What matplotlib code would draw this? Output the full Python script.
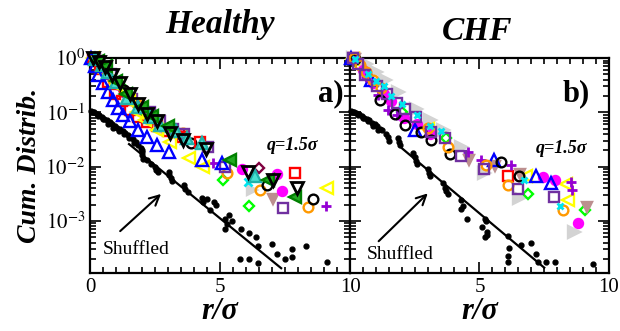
import matplotlib
matplotlib.use("Agg")
import matplotlib.pyplot as plt
from matplotlib.ticker import MultipleLocator, LogLocator, FixedLocator, NullFormatter

plt.rcParams['font.family'] = ['Liberation Serif', 'DejaVu Serif']
plt.rcParams['mathtext.fontset'] = 'stix'

# ---- Healthy panel: (r/sigma, cumulative distribution) ----
h_blue_r = [0.05, 0.2, 0.32, 0.51, 0.70, 0.90, 1.09, 1.28, 1.54, 1.86, 2.18, 2.57, 3.05, 4.30, 5.07]
h_blue_y = [1.0, 0.7, 0.49, 0.34, 0.24, 0.17, 0.12, 0.089, 0.068, 0.047, 0.035, 0.025, 0.019, 0.013, 0.0115]
h_red_r = [0.1, 0.4, 0.7, 0.96, 1.22, 1.54, 1.86, 2.2, 2.57, 3.01, 3.53, 4.23, 7.88]
h_red_y = [1.0, 0.63, 0.355, 0.22, 0.16, 0.11, 0.083, 0.066, 0.055, 0.045, 0.035, 0.028, 0.0076]
h_yel_r = [0.1, 0.5, 1.0, 1.5, 1.8, 2.12, 2.57, 3.08, 3.8, 4.36, 9.1]
h_yel_y = [1.0, 0.56, 0.32, 0.16, 0.1, 0.072, 0.047, 0.029, 0.0145, 0.010, 0.004]
h_blk_tri_r = [0.1, 0.35, 0.58, 0.83, 1.15, 1.54, 1.85, 2.18, 2.57, 3.08, 3.59, 4.45, 6.09, 7.05, 7.95]
h_blk_tri_y = [1.0, 0.83, 0.69, 0.49, 0.34, 0.22, 0.14, 0.095, 0.068, 0.041, 0.031, 0.021, 0.0081, 0.0056, 0.004]
h_turq_r = [0.2, 0.45, 0.7, 1.0, 1.41, 1.86, 2.31, 2.69, 3.3, 3.72, 4.30, 6.35]
h_turq_y = [0.95, 0.75, 0.56, 0.355, 0.18, 0.126, 0.083, 0.059, 0.045, 0.033, 0.027, 0.0066]
h_grn_r = [0.3, 0.6, 1.0, 1.4, 2.0, 2.4, 3.01, 5.38, 6.86, 7.88]
h_grn_y = [0.89, 0.7, 0.38, 0.22, 0.126, 0.085, 0.055, 0.013, 0.0056, 0.0028]
h_purp_sq_r = [0.2, 0.8, 1.6, 2.3, 2.7, 3.2, 3.6, 4.55, 5.19, 7.43]
h_purp_sq_y = [0.95, 0.5, 0.178, 0.1, 0.07, 0.05, 0.04, 0.023, 0.010, 0.0017]
h_orng_r = [0.25, 0.9, 1.8, 2.5, 3.59, 5.26, 6.54, 8.40]
h_orng_y = [0.89, 0.4, 0.14, 0.075, 0.041, 0.0076, 0.0037, 0.0018]
h_blk_circ_r = [0.3, 1.3, 2.3, 3.9, 6.8, 8.59]
h_blk_circ_y = [0.9, 0.26, 0.08, 0.027, 0.0046, 0.0025]
h_mag_r = [0.2, 1.1, 2.0, 3.4, 5.83, 7.18, 7.37]
h_mag_y = [0.95, 0.32, 0.11, 0.04, 0.0089, 0.0072, 0.0036]
h_lime_r = [0.15, 1.2, 2.0, 3.0, 5.13, 6.13]
h_lime_y = [0.95, 0.3, 0.11, 0.05, 0.0056, 0.0019]
h_maroon_r = [0.3, 1.7, 3.6, 6.51]
h_maroon_y = [0.9, 0.16, 0.036, 0.0095]
h_rosy_r = [0.25, 1.9, 3.3, 7.03]
h_rosy_y = [0.9, 0.12, 0.04, 0.0025]
h_plus_r = [0.2, 1.4, 4.74, 9.08]
h_plus_y = [0.95, 0.2, 0.0117, 0.0019]
h_cyan_r = [0.2, 2.6, 6.09]
h_cyan_y = [0.95, 0.065, 0.0052]
h_gray_r = [0.2, 2.9, 6.22]
h_gray_y = [0.95, 0.05, 0.0037]

h_shuf_r = [0.05, 0.1, 0.15, 0.25, 0.3, 0.35, 0.45, 0.5, 0.55, 0.65, 0.7, 0.75, 0.85, 0.9,
            0.95, 1.05, 1.1, 1.15, 1.25, 1.3, 1.35, 1.45, 1.5, 1.55, 1.65, 1.7, 1.75, 1.85,
            1.95, 2.0, 2.0, 2.0, 2.05, 2.2, 2.35, 2.5, 2.55, 2.6, 3.05, 3.05, 3.1, 3.15,
            3.6, 3.65, 3.75, 4.3, 4.35, 4.5, 4.6, 4.75, 4.85, 5.2, 5.35, 5.25, 5.2, 5.45,
            5.8, 6.1, 6.4, 6.45, 7.0, 7.2, 5.75, 6.1, 6.45, 7.5, 7.75, 7.75, 8.3, 9.1]
h_shuf_y = [0.105, 0.1, 0.1, 0.093, 0.085, 0.089, 0.083, 0.074, 0.076, 0.071, 0.062, 0.066,
            0.06, 0.052, 0.056, 0.052, 0.045, 0.05, 0.046, 0.04, 0.042, 0.038, 0.033, 0.035,
            0.032, 0.027, 0.028, 0.025, 0.022, 0.02, 0.0166, 0.0185, 0.0141, 0.0132, 0.0112,
            0.01, 0.0087, 0.0079, 0.0079, 0.0069, 0.0063, 0.0055, 0.0045, 0.0038, 0.0034,
            0.0026, 0.0022, 0.0025, 0.0016, 0.0022, 0.002, 0.0011, 0.00126, 0.00089, 0.0007,
            0.001, 0.0007, 0.0006, 0.0005, 0.00034, 0.00037, 0.00025, 0.0002, 0.0002,
            0.000166, 0.0002, 0.00022, 0.0003, 0.00035, 0.000178]
h_line_r = [1.5, 7.35]
h_line_y = [0.026, 0.000135]

# ---- CHF panel ----
c_gray_r = [0.1, 0.6, 1.0, 1.35, 1.86, 2.56, 3.08, 3.59, 4.30, 5.19, 6.54, 8.65]
c_gray_y = [1.0, 0.76, 0.56, 0.39, 0.24, 0.117, 0.072, 0.047, 0.023, 0.0076, 0.0026, 0.00063]
c_purp_sq_r = [0.1, 0.3, 0.58, 1.03, 1.41, 1.80, 2.12, 2.56, 3.14, 3.65, 4.30, 5.19, 6.47, 7.86]
c_purp_sq_y = [1.0, 0.79, 0.49, 0.30, 0.22, 0.148, 0.117, 0.083, 0.044, 0.033, 0.016, 0.0090, 0.0038, 0.0028]
c_blk_circ_r = [0.2, 1.15, 1.73, 2.12, 2.76, 3.14, 3.85, 5.83, 6.54]
c_blk_circ_y = [0.95, 0.17, 0.095, 0.059, 0.044, 0.031, 0.0174, 0.0123, 0.0068]
c_orng_r = [0.15, 0.4, 0.6, 0.9, 1.2, 3.01, 3.78, 5.26, 6.09, 8.24]
c_orng_y = [1.0, 0.75, 0.55, 0.4, 0.28, 0.051, 0.023, 0.0107, 0.0046, 0.0016]
c_plus_r = [0.2, 0.6, 1.09, 1.47, 1.80, 4.55, 5.06, 6.22, 8.53, 8.59]
c_plus_y = [0.95, 0.45, 0.21, 0.11, 0.089, 0.0186, 0.0135, 0.0107, 0.0052, 0.0037]
c_blue_r = [0.05, 0.8, 2.5, 5.58, 7.18, 7.76]
c_blue_y = [1.0, 0.4, 0.047, 0.0135, 0.0068, 0.0049]
c_mag_r = [0.1, 0.5, 0.9, 1.3, 1.6, 2.1, 2.6, 3.1, 7.47, 7.91, 8.81]
c_mag_y = [1.0, 0.6, 0.35, 0.22, 0.16, 0.077, 0.06, 0.04, 0.0065, 0.0056, 0.00093]
c_rosy_r = [0.2, 4.58, 5.60, 6.58, 9.14]
c_rosy_y = [0.95, 0.0132, 0.0102, 0.0072, 0.0018]
c_yel_r = [0.1, 3.0, 6.78, 8.33, 8.40]
c_yel_y = [0.95, 0.05, 0.0068, 0.0048, 0.0024]
c_red_r = [0.15, 6.09]
c_red_y = [1.0, 0.0068]
c_lime_r = [0.2, 2.0, 3.7, 6.88, 9.06]
c_lime_y = [0.9, 0.1, 0.034, 0.0032, 0.0016]
c_cyan_r = [0.2, 0.7, 1.0, 1.3, 1.6, 2.0, 2.6, 3.1, 3.5, 6.73, 8.12]
c_cyan_y = [0.95, 0.5, 0.38, 0.3, 0.2, 0.14, 0.09, 0.055, 0.045, 0.0056, 0.0019]

c_shuf_r = [0.05, 0.1, 0.15, 0.25, 0.3, 0.35, 0.45, 0.5, 0.55, 0.65, 0.7, 0.75, 0.85, 0.9,
            0.95, 1.05, 1.1, 1.15, 1.25, 1.4, 1.45, 1.5, 1.85, 1.9, 1.95, 2.45, 2.5, 2.55,
            2.6, 3.0, 3.05, 3.1, 3.6, 3.65, 3.7, 3.8, 4.3, 4.35, 4.3, 4.5, 5.2, 5.25, 5.1,
            5.3, 5.2, 5.3, 6.1, 6.15, 6.1, 6.1, 6.6, 7.0, 7.2, 7.25, 7.55, 7.9, 9.4]
c_shuf_y = [0.105, 0.1, 0.102, 0.098, 0.09, 0.093, 0.087, 0.08, 0.079, 0.076, 0.068, 0.071,
            0.063, 0.057, 0.06, 0.055, 0.047, 0.05, 0.047, 0.04, 0.035, 0.03, 0.033, 0.028,
            0.025, 0.0178, 0.015, 0.0126, 0.0112, 0.0089, 0.0076, 0.0066, 0.005, 0.004,
            0.0035, 0.0032, 0.0024, 0.0019, 0.00166, 0.0011, 0.0011, 0.001, 0.00079, 0.00063,
            0.0005, 0.00056, 0.00052, 0.00032, 0.00023, 0.000178, 0.00036, 0.00039, 0.00025,
            0.000178, 0.000178, 0.000178, 0.000158]
c_line_r = [2.0, 7.5]
c_line_y = [0.0219, 0.000138]


def mk(ax, r, y, marker, color, face='none', ms=7, mew=1.7):
    ax.plot(r, y, linestyle='none', marker=marker, color=color, mfc=face, mec=color,
            ms=ms, mew=mew, clip_on=False, zorder=3)


def style_axis(ax, labels):
    ax.set_yscale('log')
    ax.set_xlim(0, 10)
    ax.set_ylim(1.1e-4, 1.0)
    ax.xaxis.set_major_locator(FixedLocator([0, 5, 10]))
    ax.xaxis.set_minor_locator(MultipleLocator(0.5))
    ax.set_xticklabels(labels, fontsize=15)
    ax.yaxis.set_major_locator(LogLocator(base=10, numticks=10))
    ax.yaxis.set_minor_locator(LogLocator(base=10, subs=range(2, 10), numticks=10))
    ax.yaxis.set_minor_formatter(NullFormatter())
    ax.tick_params(which='both', direction='in', top=True, right=True, width=1.2)
    ax.tick_params(which='major', length=8)
    ax.tick_params(which='minor', length=4)
    for s in ax.spines.values():
        s.set_linewidth(1.6)


fig = plt.figure(figsize=(6.2, 3.31), dpi=100)
ax1 = fig.add_axes([0.1452, 0.1752, 0.4194, 0.6495])
ax2 = fig.add_axes([0.5645, 0.1752, 0.4177, 0.6495])

# Healthy
mk(ax1, h_gray_r, h_gray_y, '>', '#d3d3d3', '#d3d3d3')
mk(ax1, h_rosy_r, h_rosy_y, 'v', '#bc8f8f', '#bc8f8f')
mk(ax1, h_mag_r, h_mag_y, 'o', '#ff00ff', '#ff00ff', ms=6.5)
mk(ax1, h_cyan_r, h_cyan_y, 'x', '#00e5ee', ms=6, mew=2)
mk(ax1, h_plus_r, h_plus_y, '+', '#9400d3', ms=7, mew=2)
mk(ax1, h_lime_r, h_lime_y, 'D', '#00ff00', ms=5.5)
mk(ax1, h_maroon_r, h_maroon_y, 'D', '#800040', ms=5.5)
mk(ax1, h_orng_r, h_orng_y, 'o', '#ff9900')
mk(ax1, h_blk_circ_r, h_blk_circ_y, 'o', 'black')
mk(ax1, h_purp_sq_r, h_purp_sq_y, 's', '#7030a0')
mk(ax1, h_red_r, h_red_y, 's', '#ff0000')
mk(ax1, h_yel_r, h_yel_y, '<', '#ffff00', ms=8)
mk(ax1, h_blue_r, h_blue_y, '^', '#0000ff', ms=8)
mk(ax1, h_turq_r, h_turq_y, '^', '#20b2aa', '#48e0d0', ms=8)
mk(ax1, h_grn_r, h_grn_y, '<', '#008000', '#22aa22', ms=8)
mk(ax1, h_blk_tri_r, h_blk_tri_y, 'v', 'black', ms=8, mew=2)
ax1.plot(h_shuf_r, h_shuf_y, linestyle='none', marker='o', color='black', ms=3.5, clip_on=False)
ax1.plot(h_line_r, h_line_y, color='black', lw=1.6)

# CHF
mk(ax2, c_gray_r, c_gray_y, '>', '#d3d3d3', '#d3d3d3', ms=8)
mk(ax2, c_lime_r, c_lime_y, 'D', '#00ff00', ms=5.5)
mk(ax2, c_red_r, c_red_y, 's', '#ff0000')
mk(ax2, c_yel_r, c_yel_y, '<', '#ffff00', ms=8)
mk(ax2, c_rosy_r, c_rosy_y, 'v', '#bc8f8f', '#bc8f8f')
mk(ax2, c_mag_r, c_mag_y, 'o', '#ff00ff', '#ff00ff', ms=6.5)
mk(ax2, c_blue_r, c_blue_y, '^', '#0000ff', ms=8)
mk(ax2, c_plus_r, c_plus_y, '+', '#9400d3', ms=7, mew=2)
mk(ax2, c_blk_circ_r, c_blk_circ_y, 'o', 'black')
mk(ax2, c_orng_r, c_orng_y, 'o', '#ff9900')
mk(ax2, c_purp_sq_r, c_purp_sq_y, 's', '#7030a0')
mk(ax2, c_cyan_r, c_cyan_y, 'x', '#00e5ee', ms=5, mew=2)
ax2.plot(c_shuf_r, c_shuf_y, linestyle='none', marker='o', color='black', ms=3.5, clip_on=False)
ax2.plot(c_line_r, c_line_y, color='black', lw=1.6)

style_axis(ax1, ['0', '5', '10'])
style_axis(ax2, ['', '5', '10'])
ax1.set_yticks([1, 0.1, 0.01, 0.001])
ax1.set_yticklabels(['$10^{0}$', '$10^{-1}$', '$10^{-2}$', '$10^{-3}$'], fontsize=15)
ax2.set_yticks([1, 0.1, 0.01, 0.001])
ax2.set_yticklabels([])

for ax, lab, qx, qy, sx, sy in [(ax1, 'a)', 0.78, 0.595, 0.05, 0.11),
                                 (ax2, 'b)', 0.815, 0.58, 0.066, 0.088)]:
    ax.text(0.975 if lab == 'a)' else 0.925, 0.8, lab, transform=ax.transAxes,
            ha='right', va='baseline', fontsize=22, fontweight='bold')
    ax.text(qx, qy, 'q=1.5σ', transform=ax.transAxes, ha='center', va='center',
            fontsize=13, fontweight='bold', fontstyle='italic')
    ax.text(sx, sy, 'Shuffled', transform=ax.transAxes, ha='left', va='center', fontsize=14)
    ax.set_xlabel('r/σ', fontsize=22, fontweight='bold', fontstyle='italic', labelpad=0)

ax1.annotate('', xy=(2.81, 0.0034), xytext=(1.08, 0.0006),
             arrowprops=dict(arrowstyle='->,head_length=0.7,head_width=0.35', lw=1.5, color='black'))
ax2.annotate('', xy=(3.08, 0.0035), xytext=(1.03, 0.00039),
             arrowprops=dict(arrowstyle='->,head_length=0.7,head_width=0.35', lw=1.5, color='black'))

fig.text(0.355, 0.90, 'Healthy', ha='center', va='baseline', fontsize=24,
         fontweight='bold', fontstyle='italic')
fig.text(0.769, 0.88, 'CHF', ha='center', va='baseline', fontsize=24,
         fontweight='bold', fontstyle='italic')
fig.text(0.048, 0.50, 'Cum. Distrib.', ha='center', va='center', rotation=90,
         fontsize=20, fontweight='bold', fontstyle='italic')

fig.savefig('out.png', dpi=100)
